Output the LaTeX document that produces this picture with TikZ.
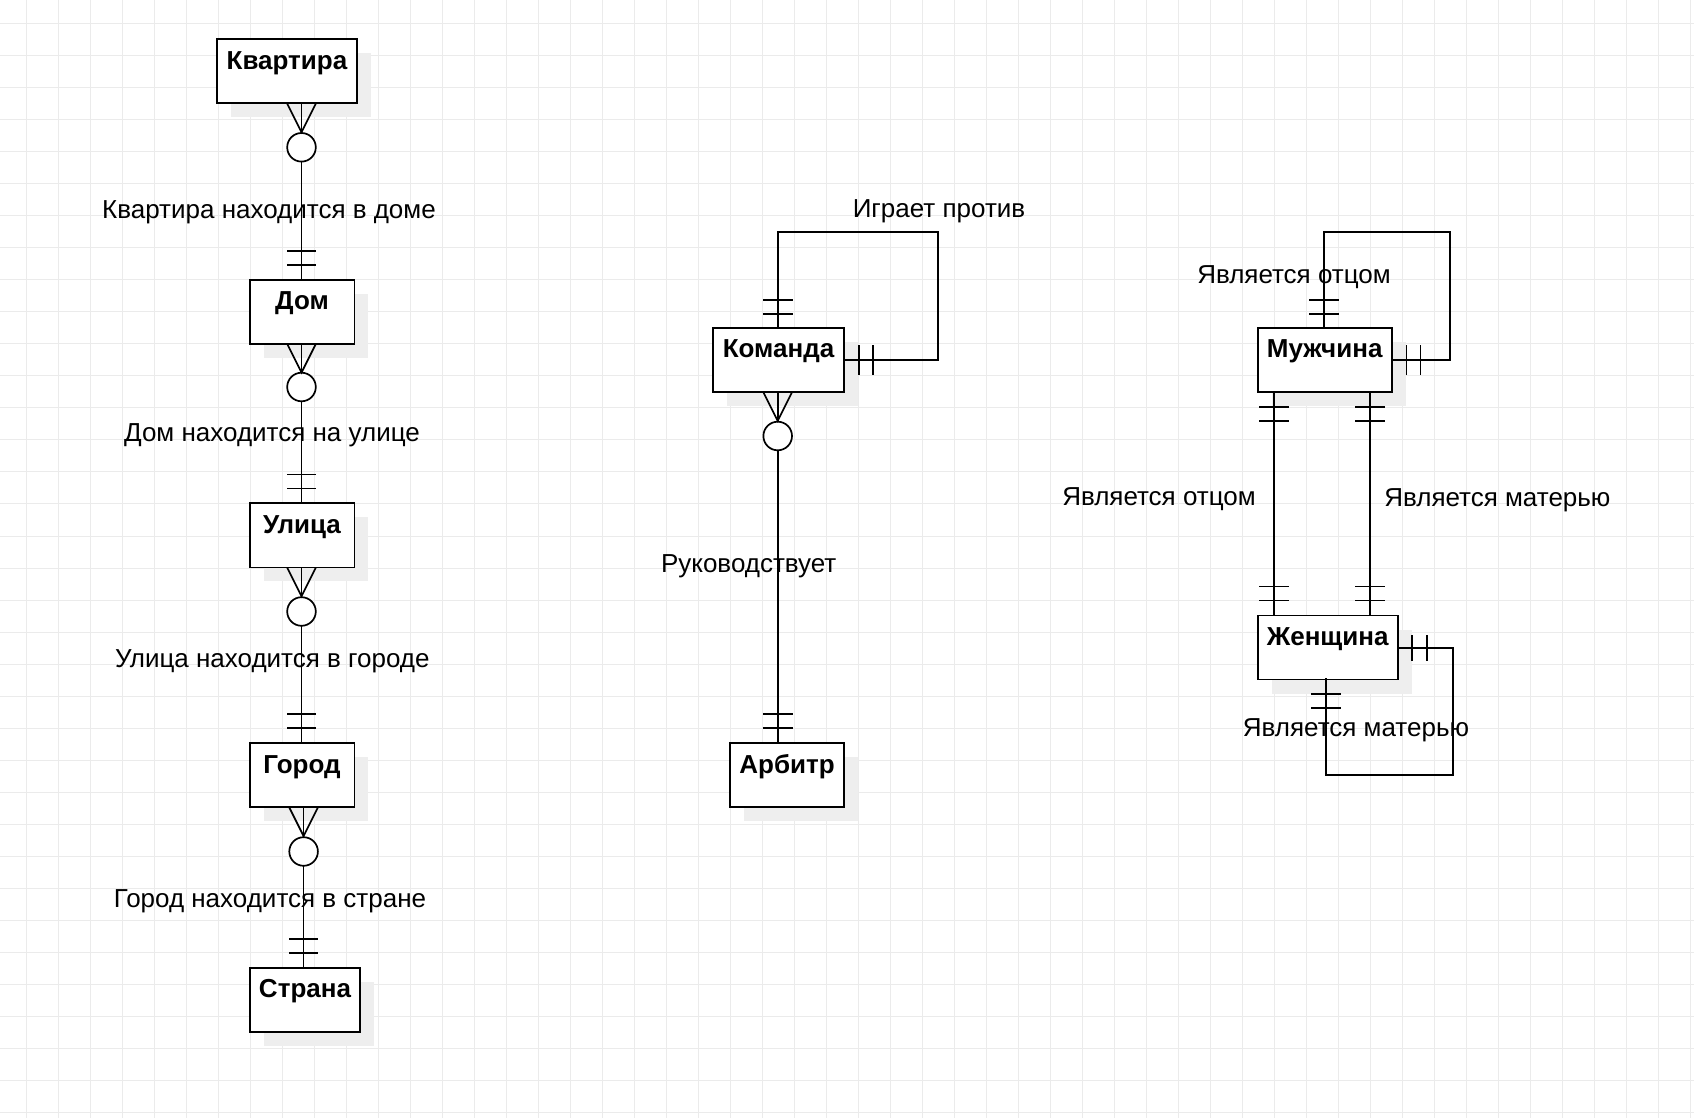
\documentclass[tikz,border=0pt]{standalone}
\usepackage{fontspec}
\setmainfont{Liberation Sans}
\usetikzlibrary{shadows,calc}
\definecolor{gridc}{HTML}{EBEBEB}
\definecolor{shadowc}{HTML}{EEEEEE}
\begin{document}
\begin{tikzpicture}[x=0.5pt,y=-0.5pt,
  ent/.style={draw=black, line width=0.9pt, fill=white, inner sep=0pt, minimum height=32pt,
    text height=15pt, text depth=17pt, font=\bfseries\fontsize{13}{15}\selectfont,
    general shadow={fill=shadowc, draw=none, shadow xshift=7pt, shadow yshift=-7pt}},
  lnk/.style={line width=0.85pt, line cap=rect},
  circ/.style={circle, draw, line width=0.85pt, fill=white, minimum size=14.3pt, inner sep=0pt},
  lbl/.style={font=\fontsize{13}{15}\selectfont, anchor=base, inner sep=0pt},
  gridline/.style={draw=gridc, line width=0.5pt}
]
\useasboundingbox (0,0) rectangle (1694,1118);
\fill[white] (0,0) rectangle (1694,1118);
\foreach \i in {0,...,52} \draw[gridline] (26.5+32*\i,0) -- (26.5+32*\i,1118);
\foreach \j in {0,...,34} \draw[gridline] (0,24+32*\j) -- (1694,24+32*\j);

% ---------- entities ----------
\node[ent, minimum width=69.7pt] (kv)  at (287,71.3)    {Квартира};
\node[ent, minimum width=52.4pt] (dom) at (302,311.7)   {Дом};
\node[ent, minimum width=52.4pt] (ul)  at (302,535.4)   {Улица};
\node[ent, minimum width=52.4pt] (gor) at (302,775.2)   {Город};
\node[ent, minimum width=55pt]   (str) at (305,999.7)   {Страна};
\node[ent, minimum width=65.3pt] (kom) at (778.5,360)   {Команда};
\node[ent, minimum width=56.7pt] (arb) at (787,775.2)   {Арбитр};
\node[ent, minimum width=67pt]   (mu)  at (1324.7,360)  {Мужчина};
\node[ent, minimum width=70pt]   (zh)  at (1327.7,647.5){Женщина};

% ---------- circles ----------
\node[circ] (o1) at (301.5,147.3) {};
\node[circ] (o2) at (301.5,387)   {};
\node[circ] (o3) at (301.5,611.5) {};
\node[circ] (o4) at (303.6,851.5) {};
\node[circ] (o5) at (777.7,436)   {};

% ---------- left chain ----------
\foreach \src/\cir/\dst in {kv/o1/dom, dom/o2/ul, ul/o3/gor, gor/o4/str}{
  \draw[lnk] (\src.south -| \cir) -- (\cir.north);
  \draw[lnk] ($(\src.south -| \cir)+(-14,0)$) -- ($(\src.south -| \cir)+(0,28)$) -- ($(\src.south -| \cir)+(14,0)$);
  \draw[lnk] (\cir.south) -- (\dst.north -| \cir);
  \draw[lnk] ($(\dst.north -| \cir)+(-14,-28)$) -- ($(\dst.north -| \cir)+(14,-28)$);
  \draw[lnk] ($(\dst.north -| \cir)+(-14,-14)$) -- ($(\dst.north -| \cir)+(14,-14)$);
}

% ---------- Команда -> Арбитр ----------
\draw[lnk] (kom.south -| o5) -- (o5.north);
\draw[lnk] ($(kom.south -| o5)+(-14,0)$) -- ($(kom.south -| o5)+(0,28)$) -- ($(kom.south -| o5)+(14,0)$);
\draw[lnk] (o5.south) -- (arb.north -| o5);
\draw[lnk] ($(arb.north -| o5)+(-14,-28)$) -- ($(arb.north -| o5)+(14,-28)$);
\draw[lnk] ($(arb.north -| o5)+(-14,-14)$) -- ($(arb.north -| o5)+(14,-14)$);

% ---------- Команда self loop ----------
\coordinate (kl) at (938.3,232.3);
\coordinate (kt) at (777.7,327.7);
\draw[lnk] (kt) |- (kl) |- (kom.east);
\draw[lnk] ($(kt)+(-14,-28)$) -- ($(kt)+(14,-28)$);
\draw[lnk] ($(kt)+(-14,-14)$) -- ($(kt)+(14,-14)$);
\draw[lnk] ($(kom.east)+(14,-14)$) -- ($(kom.east)+(14,14)$);
\draw[lnk] ($(kom.east)+(28,-14)$) -- ($(kom.east)+(28,14)$);

% ---------- Мужчина self loop ----------
\coordinate (ml) at (1450,232.3);
\coordinate (mt) at (1324,327.7);
\draw[lnk] (mt) |- (ml) |- (mu.east);
\draw[lnk] ($(mt)+(-14,-28)$) -- ($(mt)+(14,-28)$);
\draw[lnk] ($(mt)+(-14,-14)$) -- ($(mt)+(14,-14)$);
\draw[lnk] ($(mu.east)+(14,-14)$) -- ($(mu.east)+(14,14)$);
\draw[lnk] ($(mu.east)+(28,-14)$) -- ($(mu.east)+(28,14)$);

% ---------- Мужчина -> Женщина ----------
\foreach \xx in {1274,1370}{
  \coordinate (a) at (\xx,0);
  \draw[lnk] (mu.south -| a) -- (zh.north -| a);
  \draw[lnk] ($(mu.south -| a)+(-14,14)$) -- ($(mu.south -| a)+(14,14)$);
  \draw[lnk] ($(mu.south -| a)+(-14,28)$) -- ($(mu.south -| a)+(14,28)$);
  \draw[lnk] ($(zh.north -| a)+(-14,-28)$) -- ($(zh.north -| a)+(14,-28)$);
  \draw[lnk] ($(zh.north -| a)+(-14,-14)$) -- ($(zh.north -| a)+(14,-14)$);
}

% ---------- Женщина self loop ----------
\coordinate (zl) at (1453.3,775);
\coordinate (zb) at (1326,679.3);
\coordinate (ze) at (1397.7,648.3);
\draw[lnk] (ze) -| (zl) -| (zb);
\draw[lnk] ($(ze)+(14.5,-12)$) -- ($(ze)+(14.5,12)$);
\draw[lnk] ($(ze)+(29,-12)$) -- ($(ze)+(29,12)$);
\draw[lnk] ($(zb)+(-14,14.5)$) -- ($(zb)+(14,14.5)$);
\draw[lnk] ($(zb)+(-14,28.5)$) -- ($(zb)+(14,28.5)$);

% ---------- labels ----------
\node[lbl] (l1) at (269,218.6)  {Квартира находится в доме};
\node[lbl] (l2) at (272,442)    {Дом находится на улице};
\node[lbl] (l3) at (272.3,667)  {Улица находится в городе};
\node[lbl] (l4) at (270,907)    {Город находится в стране};
\node[lbl] (l5) at (939,217.5)  {Играет против};
\node[lbl] (l6) at (748.7,573)  {Руководствует};
\node[lbl] (l7) at (1294,283.3) {Является отцом};
\node[lbl] (l8) at (1159,506)   {Является отцом};
\node[lbl] (l9) at (1497.4,507) {Является матерью};
\node[lbl] (l10) at (1356,736.7){Является матерью};
\end{tikzpicture}
\end{document}
